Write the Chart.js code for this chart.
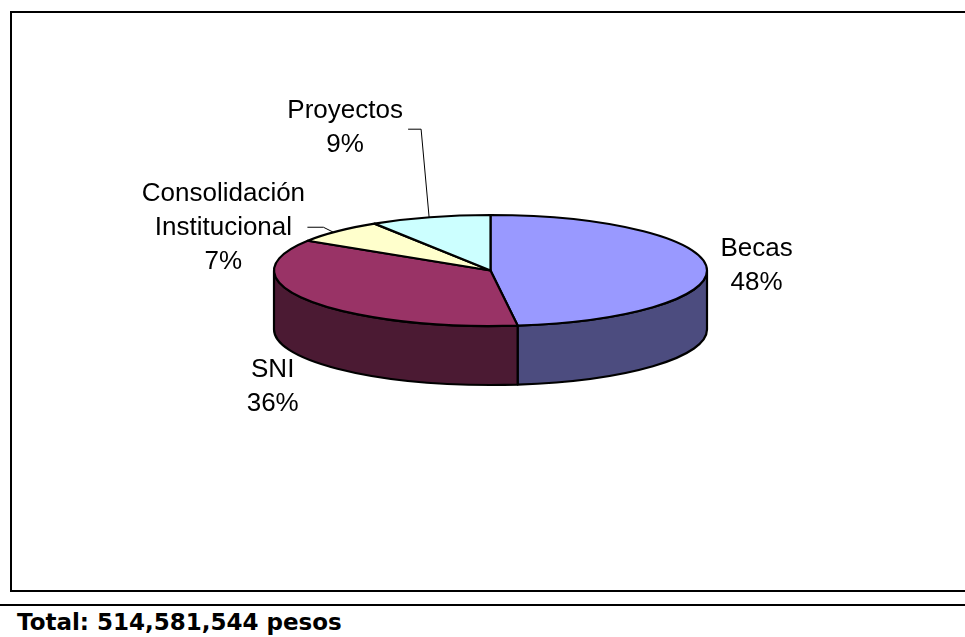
<!DOCTYPE html>
<html>
<head>
<meta charset="utf-8">
<script src="https://cdn.jsdelivr.net/npm/chart.js@4.4.1/dist/chart.umd.min.js"></script>
<style>
html, body { margin: 0; padding: 0; background: #fff; width: 965px; height: 637px; overflow: hidden; }
#frame { position: absolute; left: 10px; top: 11px; width: 990px; height: 577px; border: 2px solid #000; }
#rule { position: absolute; left: 0; top: 604px; width: 965px; height: 0; border-top: 2px solid #000; }
#total { position: absolute; left: 17px; top: 611px; font: bold 23px "DejaVu Sans", Verdana, sans-serif; line-height: 23px; color: #000; white-space: nowrap; }
#c { position: absolute; left: 0; top: 0; }
</style>
</head>
<body>
<div id="frame"></div>
<div id="rule"></div>
<div id="total">Total: 514,581,544 pesos</div>
<canvas id="c" width="965" height="637"></canvas>
<script>
// datos
const categories = ['Becas', 'SNI', 'Consolidación Institucional', 'Proyectos'];
const shares = [48, 36, 7, 9];
const nameLines = [['Becas'], ['SNI'], ['Consolidación', 'Institucional'], ['Proyectos']];

// estilo
const topColors = ['#9999FF', '#993366', '#FFFFCC', '#CCFFFF'];
const sideColors = ['#4C4C7F', '#4B1A33', '#80806A', '#6A8080'];
const TILT = 0.2564;     // vertical squash of the top face
const DEPTH = 59;        // thickness of the pie
const LINE_H = 34;
// label position relative to mid point of each slice edge, and leader lines
const labelOffsets = [[50, -11], [-35, 77], [-114, -30], [-85, -99]];
const leaders = [null, null, [[-4, 1], [-14, -4], [-30, -4]], [[-1, 0], [-9, -88], [-22, -88]]];

const pie3d = {
    id: 'pie3d',
    beforeDatasetsDraw(chart) {
        const ctx = chart.ctx;
        const arcs = chart.getDatasetMeta(0).data;
        const cx = arcs[0].x, cy = arcs[0].y, rx = arcs[0].outerRadius, ry = rx * TILT;
        ctx.save();
        ctx.lineWidth = 2.2;
        ctx.strokeStyle = '#000';
        ctx.lineJoin = 'round';

        // paredes laterales (solo mitad frontal)
        arcs.forEach((arc, i) => {
            const a = Math.max(arc.startAngle, 0);
            const b = Math.min(arc.endAngle, Math.PI);
            if (b <= a) return;
            ctx.beginPath();
            ctx.ellipse(cx, cy, rx, ry, 0, a, b);
            ctx.ellipse(cx, cy + DEPTH, rx, ry, 0, b, a, true);
            ctx.closePath();
            ctx.fillStyle = sideColors[i];
            ctx.fill();
            ctx.stroke();
        });

        // cara superior
        arcs.forEach((arc, i) => {
            ctx.beginPath();
            ctx.moveTo(cx, cy);
            ctx.ellipse(cx, cy, rx, ry, 0, arc.startAngle, arc.endAngle);
            ctx.closePath();
            ctx.fillStyle = topColors[i];
            ctx.fill();
            ctx.stroke();
        });
        ctx.restore();
        return false;
    },
    afterDraw(chart) {
        const ctx = chart.ctx;
        const arcs = chart.getDatasetMeta(0).data;
        const cx = arcs[0].x, cy = arcs[0].y, rx = arcs[0].outerRadius, ry = rx * TILT;
        ctx.save();
        arcs.forEach((arc, i) => {
            const mid = (arc.startAngle + arc.endAngle) / 2;
            const px = cx + rx * Math.cos(mid);
            const py = cy + ry * Math.sin(mid);

            if (leaders[i]) {
                ctx.beginPath();
                ctx.strokeStyle = '#000';
                ctx.lineWidth = 1;
                leaders[i].forEach((p, k) => {
                    if (k === 0) ctx.moveTo(px + p[0], py + p[1]);
                    else ctx.lineTo(px + p[0], py + p[1]);
                });
                ctx.stroke();
            }

            const lines = nameLines[i].concat([shares[i] + '%']);
            ctx.font = '26px "Liberation Sans", Arial, sans-serif';
            ctx.fillStyle = '#000';
            ctx.textAlign = 'center';
            ctx.textBaseline = 'alphabetic';
            lines.forEach((t, k) => {
                ctx.fillText(t, px + labelOffsets[i][0], py + labelOffsets[i][1] + k * LINE_H);
            });
        });
        ctx.restore();
    }
};

new Chart(document.getElementById('c'), {
    type: 'pie',
    data: {
        labels: categories,
        datasets: [{
            data: shares,
            backgroundColor: topColors,
            borderWidth: 0
        }]
    },
    options: {
        responsive: false,
        animation: false,
        events: [],
        layout: { padding: { left: 274, right: 258, top: 54, bottom: 150 } },
        plugins: {
            legend: { display: false },
            tooltip: { enabled: false }
        }
    },
    plugins: [pie3d]
});
</script>
</body>
</html>
